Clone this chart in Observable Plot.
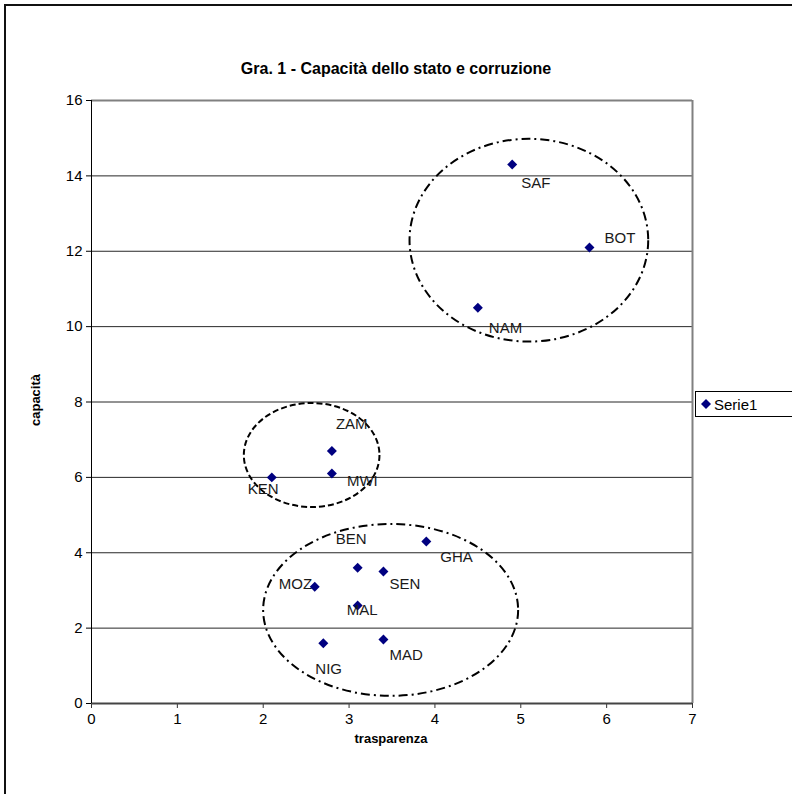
<!DOCTYPE html>
<html>
<head>
<meta charset="utf-8">
<script src="https://cdn.jsdelivr.net/npm/d3@7"></script>
<script src="https://cdn.jsdelivr.net/npm/@observablehq/plot@0.6"></script>
<style>
  html, body { margin: 0; padding: 0; background: #fff; }
  #wrap { position: relative; width: 792px; height: 794px; overflow: hidden; font-family: "Liberation Sans", Arial, sans-serif; }
  #border { position: absolute; left: 4px; top: 4px; width: 800px; height: 800px; border-left: 2px solid #111; border-top: 2px solid #111; box-sizing: border-box; }
  #title { position: absolute; left: 0; width: 792px; top: 60px; text-align: center; font-weight: bold; font-size: 16px; color: #000; }
  .axtitle { position: absolute; font-weight: bold; font-size: 13px; color: #000; }
  #legend { position: absolute; left: 695px; top: 391px; width: 120px; height: 26px; border: 1px solid #000; box-sizing: border-box; background: #fff; }
  #plot { position: absolute; left: 0; top: 0; }
</style>
</head>
<body>
<div id="wrap">
  <div id="border"></div>
  <div id="plot"></div>
  <div id="title">Gra. 1 - Capacità dello stato e corruzione</div>
  <div class="axtitle" id="ytitle" style="left:35px; top:400px; transform: translate(-50%,-50%) rotate(-90deg);">capacità</div>
  <div class="axtitle" id="xtitle" style="left:391px; top:738px; transform: translate(-50%,-50%);">trasparenza</div>
  <div id="legend"><svg width="120" height="24" style="position:absolute;left:0;top:0"><path d="M10,7 L15,12 L10,17 L5,12 Z" fill="#000080"/><text x="18" y="17.5" font-size="15" font-family="Liberation Sans, Arial, sans-serif" fill="#000">Serie1</text></svg></div>
</div>
<script>
// ---- data ----
const countries = ["SAF", "BOT", "NAM", "ZAM", "MWI", "KEN", "BEN", "GHA", "SEN", "MOZ", "MAL", "NIG", "MAD"];
const trasparenza = [4.9, 5.8, 4.5, 2.8, 2.8, 2.1, 3.1, 3.9, 3.4, 2.6, 3.1, 2.7, 3.4];
const capacita    = [14.3, 12.1, 10.5, 6.7, 6.1, 6.0, 3.6, 4.3, 3.5, 3.1, 2.6, 1.6, 1.7];
const xTicks = [0, 1, 2, 3, 4, 5, 6, 7];
const yTicks = [0, 2, 4, 6, 8, 10, 12, 14, 16];
// group outlines (centre and half-extent, in data units)
const groupCx = [5.1, 2.57, 3.49];
const groupCy = [12.28, 6.58, 2.47];
const groupRx = [1.39, 0.79, 1.485];
const groupRy = [2.69, 1.38, 2.28];

// ---- styling / label placement (pixels) ----
const labelOffset = {
  SAF: [9, 19], BOT: [15, -9], NAM: [11, 20], ZAM: [4, -27], MWI: [15, 8], KEN: [-24, 12],
  BEN: [-22, -29], GHA: [14, 16], SEN: [6, 13], MOZ: [-36, -2], MAL: [-11, 5], NIG: [-8, 26], MAD: [6, 16]
};
const groupDash = ["9,4,2,4", "6,3", "9,4,2,4"];

const points = countries.map((c, i) => ({country: c, x: trasparenza[i], y: capacita[i]}));
const groups = groupCx.map((cx, i) => ({cx, cy: groupCy[i], rx: groupRx[i], ry: groupRy[i], dash: groupDash[i]}));

function ellipses(index, scales) {
  const g = document.createElementNS("http://www.w3.org/2000/svg", "g");
  for (const e of groups) {
    const el = document.createElementNS("http://www.w3.org/2000/svg", "ellipse");
    const cx = scales.x(e.cx), cy = scales.y(e.cy);
    el.setAttribute("cx", cx);
    el.setAttribute("cy", cy);
    el.setAttribute("rx", Math.abs(scales.x(e.cx + e.rx) - cx));
    el.setAttribute("ry", Math.abs(scales.y(e.cy + e.ry) - cy));
    el.setAttribute("fill", "none");
    el.setAttribute("stroke", "#000");
    el.setAttribute("stroke-width", 2);
    el.setAttribute("stroke-dasharray", e.dash);
    g.appendChild(el);
  }
  return g;
}

const labelMarks = points.map(p => Plot.text([p], {
  x: "x", y: "y", text: "country",
  dx: labelOffset[p.country][0], dy: labelOffset[p.country][1],
  textAnchor: "start", fontSize: 15, fill: "#1a1a1a"
}));

const chart = Plot.plot({
  width: 792,
  height: 794,
  marginLeft: 91,
  marginRight: 100,
  marginTop: 100,
  marginBottom: 91,
  style: {fontFamily: "Liberation Sans, Arial, sans-serif", fontSize: "15px", color: "#000", background: "transparent"},
  x: {domain: [0, 7], ticks: xTicks, label: null, tickSize: 5, tickPadding: 6, tickFormat: d3.format("d")},
  y: {domain: [0, 16], ticks: yTicks, label: null, tickSize: 5, tickPadding: 4, tickFormat: d3.format("d")},
  marks: [
    Plot.ruleY(yTicks.filter(v => v > 0 && v < 16), {stroke: "#000", strokeWidth: 1, strokeOpacity: 0.85}),
    Plot.ruleY([16], {stroke: "#808080", strokeWidth: 2}),
    Plot.ruleX([7], {stroke: "#808080", strokeWidth: 2}),
    Plot.axisX({ticks: xTicks, tickFormat: d3.format("d"), tickSize: 5, tickPadding: 5, fontSize: 15, stroke: "#333"}),
    Plot.axisY({ticks: yTicks, tickFormat: d3.format("d"), tickSize: 5, tickPadding: 4, fontSize: 15, stroke: "#000"}),
    Plot.ruleY([0], {stroke: "#444", strokeWidth: 2}),
    Plot.ruleX([0], {stroke: "#000", strokeWidth: 1}),
    ellipses,
    Plot.dot(points, {x: "x", y: "y", symbol: "diamond2", r: 4.5, fill: "#000080", stroke: "none"}),
    ...labelMarks
  ]
});
document.getElementById("plot").appendChild(chart);
</script>
</body>
</html>
